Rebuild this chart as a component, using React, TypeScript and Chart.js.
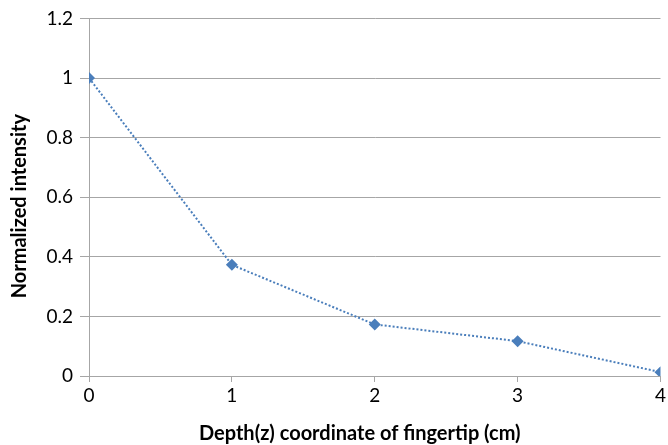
import React, { useEffect, useRef } from "react";
import { Chart, registerables } from "chart.js";

Chart.register(...registerables);

const depths = [0, 1, 2, 3, 4];
const intensity = [1.0, 0.373, 0.173, 0.117, 0.013];
const xTitle = "Depth(z) coordinate of fingertip (cm)";
const yTitle = "Normalized intensity";

const FONT = "Lato, 'Liberation Sans', sans-serif";

const axisTitles = {
  id: "axisTitles",
  afterDraw(chart: any) {
    const { ctx, chartArea } = chart;
    ctx.save();
    ctx.fillStyle = "#000";
    ctx.font = `bold 20px ${FONT}`;
    ctx.textAlign = "center";
    ctx.textBaseline = "middle";
    const cx = (chartArea.left + chartArea.right) / 2 - 15;
    ctx.fillText(xTitle, cx, chart.height - 11);
    const cy = (chartArea.top + chartArea.bottom) / 2 + 9;
    ctx.translate(20, cy);
    ctx.rotate(-Math.PI / 2);
    ctx.fillText(yTitle, 0, 0);
    ctx.restore();
  },
};

export default function App() {
  const ref = useRef<HTMLCanvasElement | null>(null);
  useEffect(() => {
    document.body.style.margin = "0";
    const ctx = ref.current!;
    const chart = new Chart(ctx, {
      type: "scatter",
      data: {
        datasets: [
          {
            data: depths.map((x, i) => ({ x, y: intensity[i] })),
            showLine: true,
            borderColor: "#4a7ebb",
            backgroundColor: "#4a7ebb",
            borderWidth: 2,
            borderDash: [2, 2],
            pointStyle: "rectRot",
            pointRadius: 6,
            pointBorderWidth: 0,
          },
        ],
      },
      options: {
        animation: false,
        responsive: false,
        layout: { padding: { top: 16, right: 5, left: 0, bottom: 0 } },
        plugins: { legend: { display: false }, tooltip: { enabled: false } },
        scales: {
          x: {
            type: "linear",
            min: 0,
            max: 4,
            ticks: { stepSize: 1, color: "#000", font: { family: FONT, size: 19 }, padding: 2 },
            grid: { display: true, drawOnChartArea: false, drawTicks: true, tickLength: 6, color: "#a6a6a6" },
            border: { color: "#a6a6a6", width: 1 },
            afterFit: (s: any) => { s.height = 69; },
          },
          y: {
            min: 0,
            max: 1.2,
            ticks: { stepSize: 0.2, color: "#000", font: { family: FONT, size: 19 }, padding: 7, callback: (v: any) => String(Math.round(v * 10) / 10) },
            grid: { color: "#a6a6a6", tickLength: 9 },
            border: { color: "#a6a6a6", width: 1 },
            afterFit: (s: any) => { s.width = 89; },
          },
        },
      },
      plugins: [axisTitles],
    } as any);
    return () => chart.destroy();
  }, []);
  return (
    <div style={{ width: 668, height: 445, background: "#fff" }}>
      <canvas ref={ref} width={668} height={445} />
    </div>
  );
}
